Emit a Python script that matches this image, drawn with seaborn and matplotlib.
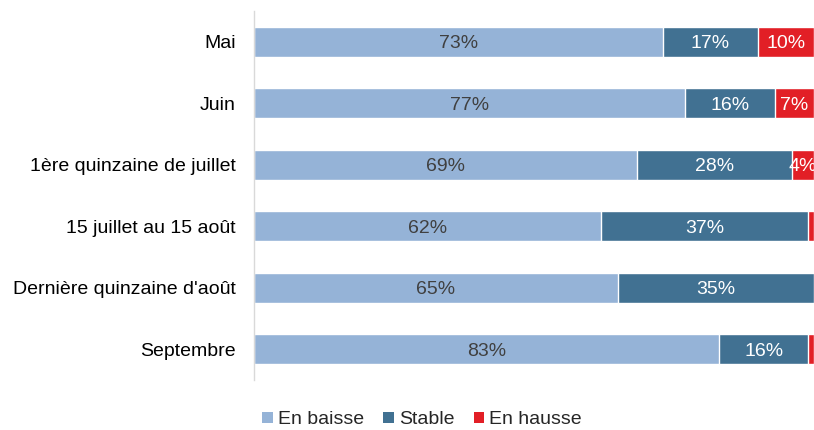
import matplotlib
matplotlib.use("Agg")
import matplotlib.pyplot as plt
from matplotlib.patches import Patch
import seaborn as sns
import pandas as pd
import numpy as np

categories = ["Mai", "Juin", "1ère quinzaine de juillet", "15 juillet au 15 août",
              "Dernière quinzaine d'août", "Septembre"]
en_baisse = [73, 77, 69, 62, 65, 83]
stable = [17, 16, 28, 37, 35, 16]
en_hausse = [10, 7, 4, 1, 0, 1]
series = ["En baisse", "Stable", "En hausse"]
colors = ["#95B3D7", "#417192", "#E21F26"]
label_colors = ["#404040", "white", "white"]

sns.set_theme(style="white")
plt.rcParams["font.family"] = ["Liberation Sans", "DejaVu Sans"]

vals = np.array([en_baisse, stable, en_hausse], dtype=float)
tot = vals.sum(axis=0)
pct = vals / tot * 100
cum = np.cumsum(pct, axis=0)

fig = plt.figure(figsize=(8.14, 4.30), dpi=100)
ax = fig.add_axes([254 / 814, 1 - 380 / 430, 1 - 254 / 814, (380 - 11) / 430])

for i in [2, 1, 0]:
    df = pd.DataFrame({"cat": categories, "val": cum[i]})
    sns.barplot(data=df, y="cat", x="val", orient="h", color=colors[i],
                saturation=1, width=0.49, ax=ax, order=categories)

for i in range(3):
    for j in range(len(categories)):
        if vals[i, j] >= 4:
            center = cum[i, j] - pct[i, j] / 2
            ax.text(center, j, f"{int(vals[i, j])}%", ha="center", va="center_baseline",
                    color=label_colors[i], fontsize=14, clip_on=False)

ax.set_xlim(0, 100)
ax.set_ylim(5.5, -0.5)
ax.set_xlabel("")
ax.set_ylabel("")
ax.set_xticks([])
for s in ["top", "right", "bottom"]:
    ax.spines[s].set_visible(False)
ax.spines["left"].set_color("#D9D9D9")
ax.spines["left"].set_linewidth(1)
ax.tick_params(axis="y", length=0, pad=13, labelsize=14, labelcolor="black")

handles = [Patch(facecolor=c, edgecolor="none") for c in colors]
fig.legend(handles, series, loc="center", bbox_to_anchor=(422 / 814, 10 / 430),
           ncol=3, frameon=False, fontsize=14, handlelength=0.55, handleheight=0.55,
           handletextpad=0.25, columnspacing=1.0)

fig.savefig("out.png", dpi=100)
